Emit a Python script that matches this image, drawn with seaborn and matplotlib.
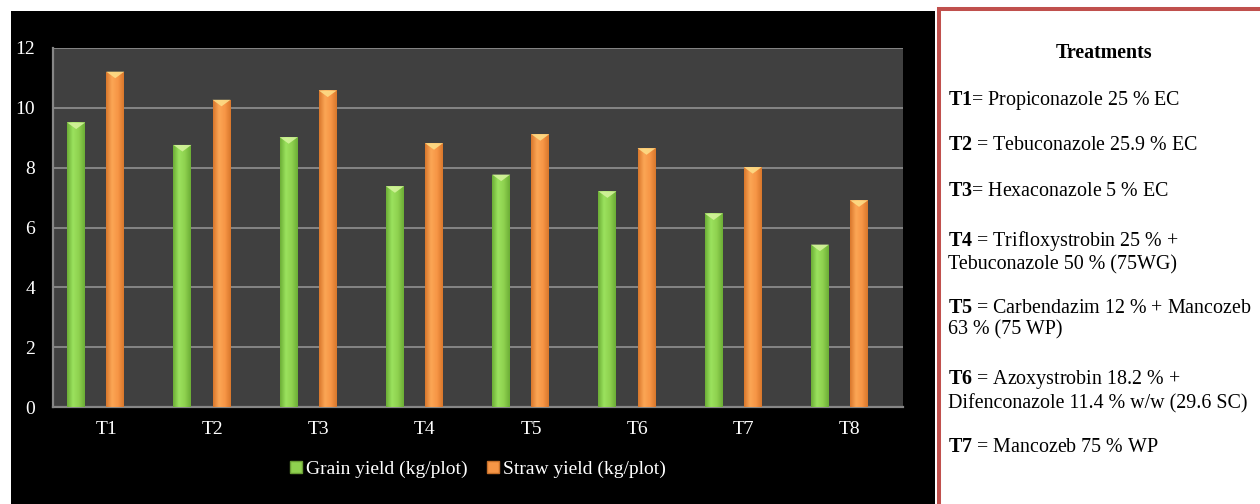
import numpy as np
import pandas as pd
import matplotlib
matplotlib.use('Agg')
import matplotlib.pyplot as plt
from matplotlib.patches import Rectangle, Patch, Polygon
from matplotlib.colors import LinearSegmentedColormap
import seaborn as sns

# 數據
treatments = ['T1', 'T2', 'T3', 'T4', 'T5', 'T6', 'T7', 'T8']
grain_yield = [9.51, 8.76, 9.02, 7.38, 7.77, 7.21, 6.47, 5.43]
straw_yield = [11.21, 10.27, 10.58, 8.82, 9.12, 8.65, 8.02, 6.91]
series_names = ['Grain yield (kg/plot)', 'Straw yield (kg/plot)']

treatment_notes = [
    ('T1', '= Propiconazole 25 % EC'),
    ('T2', ' = Tebuconazole 25.9 % EC'),
    ('T3', '= Hexaconazole 5 % EC'),
    ('T4', ' = Trifloxystrobin 25 % +\nTebuconazole 50 % (75WG)'),
    ('T5', ' = Carbendazim 12 % + Mancozeb\n63 % (75 WP)'),
    ('T6', ' = Azoxystrobin 18.2 % +\nDifenconazole 11.4 % w/w (29.6 SC)'),
    ('T7', ' = Mancozeb 75 % WP'),
]

GREEN = '#8fd14f'
ORANGE = '#f79646'
# 柱子漸層 (邊緣, 中間) 與頂部高光
shade = {
    GREEN: (['#6cae36', '#9be25e', '#8fd14f', '#6cae36'], '#d8f5a0'),
    ORANGE: (['#d9772c', '#fba655', '#f79646', '#d9772c'], '#fde08a'),
}

df = pd.DataFrame({
    'Treatment': treatments * 2,
    'Yield': grain_yield + straw_yield,
    'Type': [series_names[0]] * len(treatments) + [series_names[1]] * len(treatments),
})

sns.set_style('white')
plt.rcParams['font.family'] = ['Liberation Serif', 'DejaVu Serif']
plt.rcParams['mathtext.fontset'] = 'custom'
plt.rcParams['mathtext.rm'] = 'Liberation Serif'
plt.rcParams['mathtext.bf'] = 'Liberation Serif:bold'

W, H = 1260, 504
fig = plt.figure(figsize=(W / 100, H / 100), dpi=100)
fig.patch.set_facecolor('white')

# 黑色圖表背景
fig.patches.append(Rectangle((11 / W, 0), 924 / W, 493 / H, transform=fig.transFigure,
                             facecolor='black', edgecolor='none', zorder=-2))
# 右側紅框說明區
fig.patches.append(Rectangle((939 / W, -0.1), 0.5, 1.1 - 9 / H, transform=fig.transFigure,
                             facecolor='white', edgecolor='#c0504d', lw=2.9, zorder=-2))

ax = fig.add_axes([53 / W, 1 - 407 / H, 850 / W, 359 / H])
ax.set_zorder(1)
ax.set_facecolor('#404040')

sns.barplot(data=df, x='Treatment', y='Yield', hue='Type', palette=[GREEN, ORANGE],
            width=0.736, gap=0.54, saturation=1, edgecolor='none', ax=ax, legend=False)

bars = list(ax.patches)
for p in bars:
    p.set_x(p.get_x() - 0.098)
    p.set_zorder(3)
    key = GREEN if np.allclose(p.get_facecolor()[:3], matplotlib.colors.to_rgb(GREEN)) else ORANGE
    cols, cap = shade[key]
    cmap = LinearSegmentedColormap.from_list('bar', cols)
    x0, x1 = p.get_x(), p.get_x() + p.get_width()
    top = p.get_height()
    im = ax.imshow(np.linspace(0, 1, 64).reshape(1, -1), cmap=cmap, aspect='auto',
                   extent=(x0, x1, 0, top), zorder=3.5, interpolation='bilinear')
    im.set_clip_path(p)
    ax.add_patch(Polygon([(x0, top), (x1, top), ((x0 + x1) / 2, top - 0.22)],
                         closed=True, facecolor=cap, edgecolor='none', alpha=0.85, zorder=4))

ax.set_xlim(-0.5, 7.5)
ax.set_ylim(0, 12)
ax.set_yticks(np.arange(0, 13, 2))
ax.yaxis.grid(True, color='#858585', lw=1.4, zorder=1)
ax.set_axisbelow(True)

ax.set_xticks(np.arange(-0.5, 8, 1))
ax.set_xticklabels([])
ax.set_xticks(np.arange(8), minor=True)
ax.set_xticklabels(treatments, minor=True)
ax.tick_params(axis='x', which='major', length=5, width=1.3, color='#868686', direction='out')
ax.tick_params(axis='x', which='minor', length=0, pad=10, labelsize=14, labelcolor='white')
ax.tick_params(axis='y', length=4, width=1.3, color='#868686', direction='out',
               pad=9, labelsize=14, labelcolor='white')
ax.set_xlabel('')
ax.set_ylabel('')

for side in ['top', 'right']:
    ax.spines[side].set_visible(False)
for side in ['left', 'bottom']:
    ax.spines[side].set_color('#868686')
    ax.spines[side].set_linewidth(1.6)

handles = [Patch(facecolor=GREEN, edgecolor='#6a9d34'), Patch(facecolor=ORANGE, edgecolor='#c7702a')]
fig.legend(handles, series_names, loc='center', bbox_to_anchor=(478 / W, 1 - 469 / H),
           ncol=2, frameon=False, handlelength=0.6, handleheight=0.6, handletextpad=0.2,
           columnspacing=1.0, labelcolor='white', fontsize=14)

# 說明文字
fig.text(1104 / W, 1 - 53 / H, 'Treatments', ha='center', va='center',
         fontsize=14.4, fontweight='bold', color='black')
y = 98
for code, desc in treatment_notes:
    fig.text(948 / W, 1 - (y - 9) / H, r'$\mathbf{' + code + '}$' + desc, ha='left',
             va='top', fontsize=14.4, color='black', linespacing=1.15)
    y += 46.7 + (23 if '\n' in desc else 0)

fig.savefig('out.png', dpi=100, facecolor='white')
